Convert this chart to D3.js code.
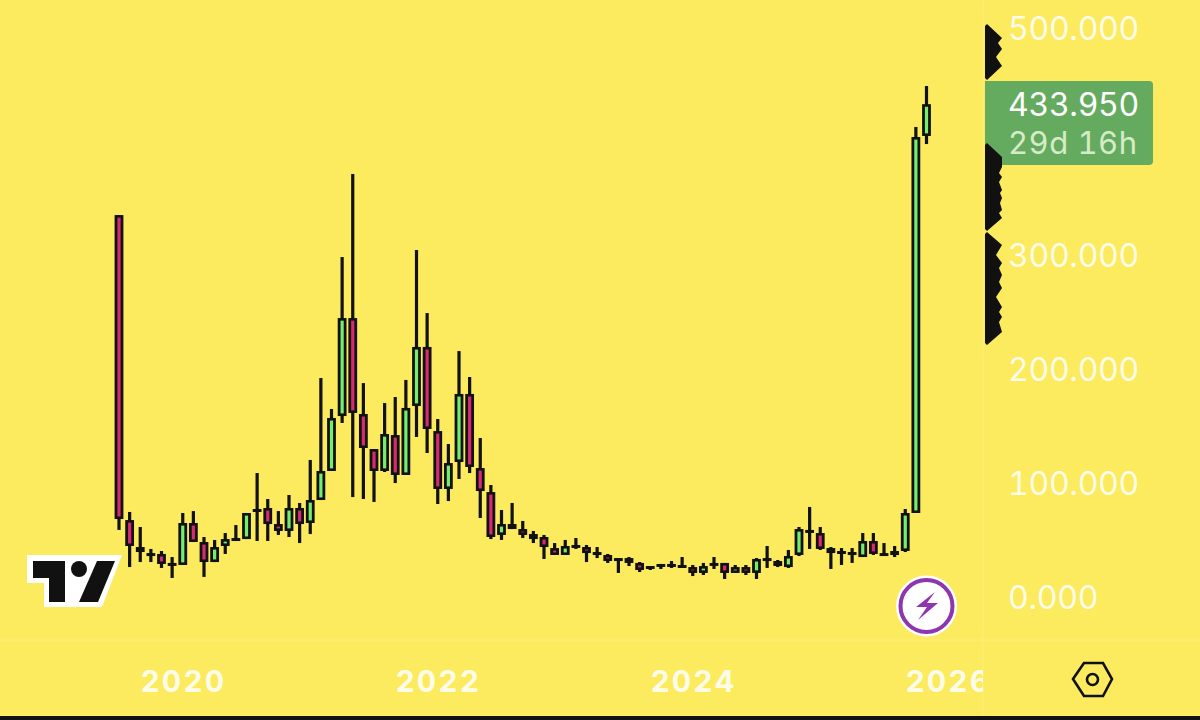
<!DOCTYPE html>
<html>
<head>
<meta charset="utf-8">
<script src="https://cdn.jsdelivr.net/npm/d3@7"></script>
<style>
  html, body { margin: 0; padding: 0; background: #fcea5f; }
  svg { display: block; }
  text { font-variant-numeric: tabular-nums; font-feature-settings: "tnum"; }
</style>
</head>
<body>
<svg id="chart" width="1200" height="720"></svg>
<script>
// monthly bars, Jul 2019 .. Nov 2025
var opens = [336.5,68.5,44.8,39.5,38.7,30.8,29,65.9,49.2,31.6,45.7,51,51.8,78.2,79.1,65,58.9,79.1,65.9,86.1,111.6,159.9,246,161.7,130.9,111.6,143.2,108.1,168.7,220.6,146.7,95.8,119.5,179.3,114.2,93.1,55.4,65,60.6,56.2,53.6,43.9,37.8,46.6,44.8,40.4,37.8,35.1,35.1,30.8,28.1,29.9,29,29,27.2,22,29,30.8,22,27.2,22,33.4,32.5,27.2,37.8,59.8,57.1,43.9,41.3,38.7,36,50.1,39.5,37.8,41.3,74.7,406];
var highs = [336.5,75.6,62.4,43.1,41.3,36,74.7,76.4,53.6,51,57.1,64.1,74.7,109.8,87,76.4,90.5,83.5,121.3,193.3,166.1,299.6,372.6,188.9,130.9,171.3,176.6,191.6,305.8,250.4,157.3,135.3,217,194.2,140.6,99.3,77.3,83.5,67.7,58.9,55.4,48.3,51,52.7,46.6,44.8,38.7,35.1,36,31.6,28.1,29.9,32.5,36,29,30.8,36,30.8,29,29,35.1,45.7,33.4,42.2,62.4,80,62.4,44.8,43.9,43.9,57.1,57.1,48.3,45.7,78.2,413.9,449.9];
var lows = [59.8,27.2,31.6,31.6,26.4,17.6,29,49.2,18.5,31.6,38.7,50.1,51.8,50.1,50.1,55.4,53.6,48.3,56.2,86.1,111.6,153.8,88.7,87,84.4,110.7,101,108.1,141.5,127.4,82.6,85.2,104.6,109.8,70.3,51.8,51,60.6,52.7,48.3,34.3,37.8,37.8,43.1,31.6,35.1,30.8,22,28.1,22.8,24.6,25.5,26.4,27.2,19.3,20.2,25.5,16.7,22,20.2,16.7,26.4,27.2,26.4,36.9,43.1,42.2,25.5,29,30.8,36,37.8,37.8,36,40.4,74.7,398.9];
var closes = [69.4,45.7,40.4,37.8,29.9,29.9,65.9,49.2,31.6,44.8,51.8,52.7,74.7,75.6,65,58.9,79.1,65,86.1,111.6,158.2,246,162.6,131.8,111.6,144.1,108.1,167,220.6,148.5,95.8,118.6,179.3,115.1,94,53.6,65,60.6,55.4,51.8,44.8,37.8,45.7,44.8,39.5,38.7,32.5,34.3,30.8,24.6,27.2,28.1,29.9,27.2,22,28.1,30.8,22,27.2,22,34.3,35.1,28.1,36.9,60.6,58,43.1,39.5,39.5,40.4,50.1,38.7,37.8,41.3,74.7,405.1,433.95];

var priceTicks = [0, 100, 200, 300, 500];
var yearBars = [6, 30, 54, 78];      // bar index of each January
var yearLabels = ["2020", "2022", "2024", "2026"];
var lastPrice = 433.95;
var countdown = "29d 16h";

var bg = "#fcea5f", upCol = "#74ee6c", downCol = "#d62a73", ink = "#111111";
var labelCol = "#fffce8";
var labelFont = "Inter, 'Noto Sans', sans-serif";

var svg = d3.select("#chart");

var x = d3.scaleLinear().domain([0, 76]).range([119, 926.5]);
var y = d3.scaleLinear().domain([0, 500]).range([598, 29]);

svg.append("rect").attr("width", 1200).attr("height", 720).attr("fill", bg);

// pane separators
svg.append("line").attr("x1", 983).attr("x2", 983).attr("y1", 0).attr("y2", 716)
   .attr("stroke", "#fdee7c").attr("stroke-width", 1);
svg.append("line").attr("x1", 0).attr("x2", 1200).attr("y1", 640).attr("y2", 640)
   .attr("stroke", "#fdee7c").attr("stroke-width", 1);

svg.append("clipPath").attr("id", "pane")
   .append("rect").attr("x", 0).attr("y", 640).attr("width", 983).attr("height", 76);

var bars = svg.append("g").selectAll("g")
  .data(opens)
  .enter()
  .append("g");

// wicks
bars.append("rect")
    .attr("x", function(d, i) { return x(i) - 1.6; })
    .attr("y", function(d, i) { return y(highs[i]); })
    .attr("width", 3.2)
    .attr("height", function(d, i) { return y(lows[i]) - y(highs[i]); })
    .attr("fill", ink);

// body outline
bars.append("rect")
    .attr("x", function(d, i) { return x(i) - 4.4; })
    .attr("y", function(d, i) { return y(Math.max(opens[i], closes[i])); })
    .attr("width", 8.8)
    .attr("height", function(d, i) { return Math.max(3, Math.abs(y(opens[i]) - y(closes[i]))); })
    .attr("fill", ink);

// body fill, small bodies stay black
bars.append("rect")
    .attr("x", function(d, i) { return x(i) - 1.6; })
    .attr("y", function(d, i) { return y(Math.max(opens[i], closes[i])) + 2.6; })
    .attr("width", 3.2)
    .attr("height", function(d, i) { return Math.max(0, Math.abs(y(opens[i]) - y(closes[i])) - 5.2); })
    .attr("fill", function(d, i) { return closes[i] >= opens[i] ? upCol : downCol; });

// price axis
var yAxis = d3.axisRight(y).tickValues(priceTicks).tickFormat(d3.format(".3f")).tickSize(0).tickPadding(0);
var yG = svg.append("g").attr("transform", "translate(1008,0)").call(yAxis);
yG.select(".domain").remove();
yG.selectAll("text")
  .attr("fill", labelCol)
  .style("font-family", labelFont)
  .style("font-size", "32px")
  .style("letter-spacing", "-0.3px");

// time axis
var xAxis = d3.axisBottom(x).tickValues(yearBars)
  .tickFormat(function(d, i) { return yearLabels[i]; }).tickSize(0).tickPadding(0);
var xClip = svg.append("g").attr("clip-path", "url(#pane)");
var xG = xClip.append("g").attr("transform", "translate(0,671)").call(xAxis);
xG.select(".domain").remove();
xG.selectAll("text")
  .attr("fill", labelCol)
  .style("font-family", labelFont)
  .style("font-weight", 700)
  .style("font-size", "30px")
  .style("letter-spacing", "2px");

// last price badge
svg.append("path")
   .attr("d", "M985,81H1149a4,4 0 0 1 4,4V161a4,4 0 0 1 -4,4H985Z")
   .attr("fill", "#65ab5f");
svg.append("text").attr("x", 1008).attr("y", y(lastPrice) + 12)
   .attr("fill", "#ffffff")
   .style("font-family", labelFont).style("font-size", "32px").style("letter-spacing", "-0.3px")
   .text(d3.format(".3f")(lastPrice));
svg.append("text").attr("x", 1008).attr("y", 154)
   .attr("fill", "#d6ecc8")
   .style("font-family", labelFont).style("font-size", "31px").style("letter-spacing", "0.5px")
   .text(countdown);

// black jagged stickers on the price scale
var lineGen = d3.line();
var jags = [
  [[985,26],[987,24],[1002,38],[998,43],[1002,49],[996,57],[1002,66],[987,80],[985,78]],
  [[985,145],[987,143],[1002,157],[1002,167],[999,173],[1002,177],[999,182],[1002,190],[1000,193],[1002,198],[1000,203],[1002,210],[999,213],[1002,218],[987,231],[985,229]],
  [[985,234],[987,232],[1002,245],[996,255],[1002,263],[999,268],[1002,275],[999,282],[1002,288],[996,297],[1002,307],[999,312],[1002,317],[999,322],[1002,332],[987,345],[985,343]]
];
svg.append("g").selectAll("path").data(jags).enter().append("path")
   .attr("d", function(d) { return lineGen(d) + "Z"; })
   .attr("fill", ink);

// tradingview logo
var logo = svg.append("g");
logo.append("path").attr("d", "M27,555H122L102,607H44V583H27Z").attr("fill", "#ffffff");
logo.append("path").attr("d", "M33,561H65V602H49V578H33Z").attr("fill", ink);
logo.append("circle").attr("cx", 79).attr("cy", 569).attr("r", 8).attr("fill", ink);
logo.append("path").attr("d", "M97,561H115L98,602H79Z").attr("fill", ink);

// lightning badge
var bolt = svg.append("g");
bolt.append("circle").attr("cx", 926.5).attr("cy", 606).attr("r", 30.5).attr("fill", "#ffffff");
bolt.append("circle").attr("cx", 926.5).attr("cy", 606).attr("r", 26).attr("fill", "none")
    .attr("stroke", "#8e35b0").attr("stroke-width", 4);
bolt.append("path").attr("d", "M935,592L916,607H927L918,620L938,603H927Z").attr("fill", "#8e35b0");

// settings hexagon
svg.append("path").attr("d", "M1073,679L1084,663H1103L1112,679L1103,696H1084Z")
   .attr("fill", "none").attr("stroke", ink).attr("stroke-width", 2.6);
svg.append("circle").attr("cx", 1092.5).attr("cy", 679.5).attr("r", 5.5)
   .attr("fill", "none").attr("stroke", ink).attr("stroke-width", 2.6);

// cut off strip along the bottom
svg.append("rect").attr("x", 0).attr("y", 716).attr("width", 1200).attr("height", 4).attr("fill", ink);
</script>
</body>
</html>
